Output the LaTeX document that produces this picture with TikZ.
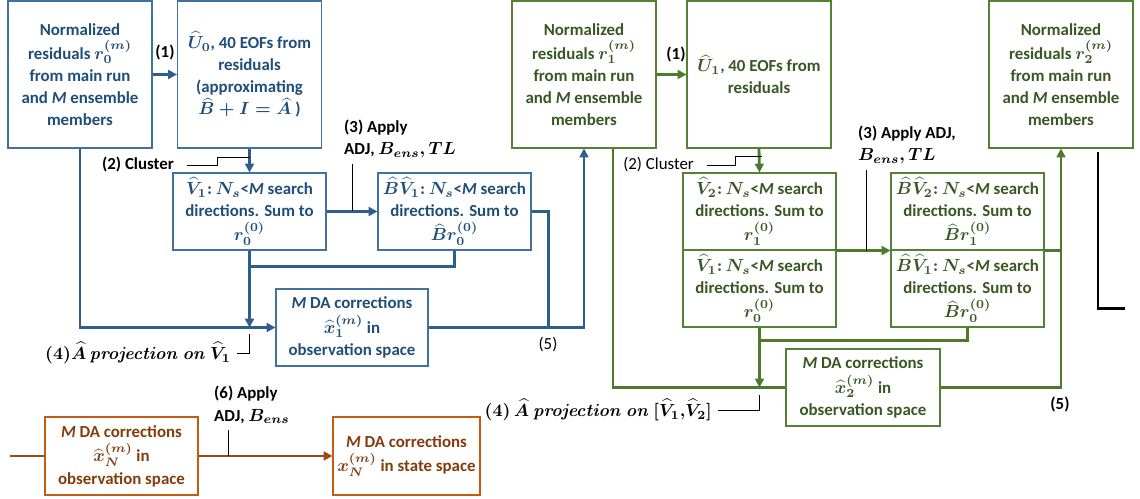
\documentclass[tikz,border=0pt]{standalone}
\usepackage{amsmath,amssymb}
\usepackage[no-math]{fontspec}
\setmainfont{Carlito}
\usetikzlibrary{arrows.meta,calc,positioning}

\definecolor{bluetx}{HTML}{1F4E79}
\definecolor{bluebd}{HTML}{41719C}
\definecolor{blueln}{HTML}{2E5E8E}
\definecolor{greentx}{HTML}{385723}
\definecolor{greenbd}{HTML}{548235}
\definecolor{greenln}{HTML}{4E7A2C}
\definecolor{browntx}{HTML}{843C0C}
\definecolor{brownbd}{HTML}{C55A11}
\definecolor{brownln}{HTML}{9C4A14}

\begin{document}
\begin{tikzpicture}[x=0.02cm, y=-0.02cm, >={Triangle[length=5pt,width=5pt]},
    every node/.style={font=\fontsize{9.6}{12.6}\selectfont\bfseries\boldmath},
    plain/.style={font=\fontsize{9.6}{12.6}\selectfont},
    mathlabel/.style={font=\fontsize{10}{12}\selectfont\boldmath},
    box/.style={draw, align=center, inner sep=1pt, line width=0.6pt},
    tallbox/.style={box, minimum width=2.88cm, minimum height=2.94cm},
    dirbox/.style={box, minimum width=3.06cm, minimum height=1.54cm},
    bluebox/.style={draw=bluebd, text=bluetx},
    greenbox/.style={draw=greenbd, text=greentx},
    brownbox/.style={draw=brownbd, text=browntx},
    flowb/.style={line width=1.6pt, blueln},
    flowg/.style={line width=1.6pt, greenln},
    flowo/.style={line width=1.6pt, brownln},
    callout/.style={line width=0.5pt, black}]
    \useasboundingbox (0,0) rectangle (1140,499);
    % Iteration 1 (blue)
    \node[tallbox, bluebox] (nrm0) at (80,74.5) {Normalized\\[1pt]residuals $r_0^{(m)}$\\from main run\\and \textit{M} ensemble\\members};
    \node[tallbox, bluebox] (eof0) at (249.5,74.5) {$\widehat{U}_0$, 40 EOFs from\\residuals\\(approximating\\$\widehat{B}+I=\widehat{A}$ )};
    \node[dirbox, bluebox] (vdir1) at (249.5,211.5) {$\widehat{V}_1{:}\,N_s$<\textit{M} search\\directions. Sum to\\[1pt]$r_0^{(0)}$};
    \node[dirbox, bluebox] (bvdir1) at (454.5,211.5) {$\widehat{B}\widehat{V}_1{:}\,N_s$<\textit{M} search\\directions. Sum to\\[1pt]$\widehat{B}r_0^{(0)}$};
    \node[dirbox, bluebox, minimum width=3.04cm] (corr1) at (352,327.5) {\textit{M} DA corrections\\[1.5pt]$\widehat{x}_1^{(m)}$ in\\observation space};
    \node (one0) at (165,53) {(1)};
    \node[anchor=east] (clu0) at (180,165) {(2) Cluster};
    \node[anchor=west, align=left] (app0) at (338,139) {(3) Apply\\ADJ, $B_{ens}, TL$};
    \node[mathlabel, anchor=east] (proj0) at (237,353) {$(4)\widehat{A}\,\mathit{projection\ on}\ \widehat{V}_1$};
    \node[plain] (five0) at (548,345) {(5)};
    \coordinate (j3b) at ($(vdir1.east)!0.5!(bvdir1.west)$);
    \coordinate (j4b) at ($(vdir1.south)+(0,16)$);
    \coordinate (j5b) at ($(corr1.east)+(120,0)$);
    \draw[flowb, ->] (nrm0.east) -- (eof0.west);
    \draw[flowb, ->] (eof0.south) -- (vdir1.north);
    \draw[flowb, ->] (vdir1.east) -- (bvdir1.west);
    \draw[flowb, ->] (vdir1.south) -- (vdir1.south |- corr1.west);
    \draw[flowb] (bvdir1.south) |- (j4b);
    \draw[flowb, ->] (nrm0.south) |- (corr1.west);
    \draw[flowb] (bvdir1.east) -| (j5b);
    \draw[callout] ([xshift=4pt]clu0.east) -- ++(30,0) |- ($(eof0.south)+(0,9)$);
    \draw[callout] (j3b) -- (j3b |- app0.south);
    \draw[callout] (proj0.east) -| ($(vdir1.south |- corr1.west)+(0,7)$);
    % Iteration 2 (green)
    \node[tallbox, greenbox] (nrm1) at (584,74.5) {Normalized\\[1pt]residuals $r_1^{(m)}$\\from main run\\and \textit{M} ensemble\\members};
    \node[tallbox, greenbox] (eof1) at (759,74.5) {$\widehat{U}_1$, 40 EOFs from\\residuals};
    \node[dirbox, greenbox] (vdir2) at (759.5,211.5) {$\widehat{V}_2{:}\,N_s$<\textit{M} search\\directions. Sum to\\[1pt]$r_1^{(0)}$};
    \node[dirbox, greenbox] (vdir1g) at (759.5,288.5) {$\widehat{V}_1{:}\,N_s$<\textit{M} search\\directions. Sum to\\[1pt]$r_0^{(0)}$};
    \node[dirbox, greenbox] (bvdir2) at (967.5,211.5) {$\widehat{B}\widehat{V}_2{:}\,N_s$<\textit{M} search\\directions. Sum to\\[1pt]$\widehat{B}r_1^{(0)}$};
    \node[dirbox, greenbox] (bvdir1g) at (967.5,288.5) {$\widehat{B}\widehat{V}_1{:}\,N_s$<\textit{M} search\\directions. Sum to\\[1pt]$\widehat{B}r_0^{(0)}$};
    \node[tallbox, greenbox] (nrm2) at (1061,74.5) {Normalized\\[1pt]residuals $r_2^{(m)}$\\from main run\\and \textit{M} ensemble\\members};
    \node[dirbox, greenbox, minimum width=3.08cm] (corr2) at (863,387.5) {\textit{M} DA corrections\\[1.5pt]$\widehat{x}_2^{(m)}$ in\\observation space};
    \node (one1) at (676,55) {(1)};
    \node[plain, anchor=east] (clu1) at (700,165) {(2) Cluster};
    \node[anchor=west, align=left] (app1) at (852,145) {(3) Apply ADJ,\\$B_{ens}, TL$};
    \node[mathlabel, anchor=east] (proj1) at (718,410) {$(4)\,\widehat{A}\ \mathit{projection\ on}\ [\widehat{V}_1{,}\widehat{V}_2]$};
    \node (five1) at (1060,405) {(5)};
    \coordinate (j3g) at ($(vdir2.south east)!0.55!(bvdir2.south west)$);
    \coordinate (j4g) at ($(vdir1g.south)+(0,13)$);
    \coordinate (g1) at ($(nrm1.south)+(29,0)$);
    \coordinate (k1) at ($(nrm2.south)+(37,3)$);
    \draw[flowb, ->] (corr1.east) -| (nrm1.south);
    \draw[flowg, ->] (nrm1.east) -- (eof1.west);
    \draw[flowg, ->] (eof1.south) -- (vdir2.north);
    \draw[flowg, ->] (vdir2.south east) -- (bvdir2.south west);
    \draw[flowg] (bvdir2.south east) -- (bvdir2.south east -| nrm2.south);
    \draw[flowg, ->] (vdir1g.south) -- (vdir1g.south |- corr2.west);
    \draw[flowg] (bvdir1g.south) |- (j4g);
    \draw[flowg] (g1) |- (corr2.west);
    \draw[flowg, ->] (corr2.east) -| (nrm2.south);
    \draw[line width=1.3pt] (k1) -- ++(0,157) -- ++(27,0);
    \draw[callout] ([xshift=4pt]clu1.east) -- ++(28,0) |- ($(eof1.south)+(3,8)$);
    \draw[callout] (j3g) -- (j3g |- app1.south);
    \draw[callout] (proj1.east) -| ($(vdir1g.south |- corr2.west)+(0,8)$);
    % Final step (brown)
    \node[dirbox, brownbox, minimum height=1.56cm] (corrN) at (121.5,456) {\textit{M} DA corrections\\[1.5pt]$\widehat{x}_N^{(m)}$ in\\observation space};
    \node[dirbox, brownbox, minimum width=2.94cm, minimum height=1.56cm] (stateN) at (406.5,456) {\textit{M} DA corrections\\[1.5pt]$x_N^{(m)}$ in state space};
    \node[anchor=west, align=left] (app6) at (208,405) {(6) Apply\\ADJ, $B_{ens}$};
    \coordinate (inN) at (10,456);
    \coordinate (j6) at ($(corrN.east)+(30,0)$);
    \draw[flowo] (inN) -- (corrN.west);
    \draw[flowo, ->] (corrN.east) -- (stateN.west);
    \draw[callout] (j6) -- (j6 |- app6.south);
\end{tikzpicture}
\end{document}
